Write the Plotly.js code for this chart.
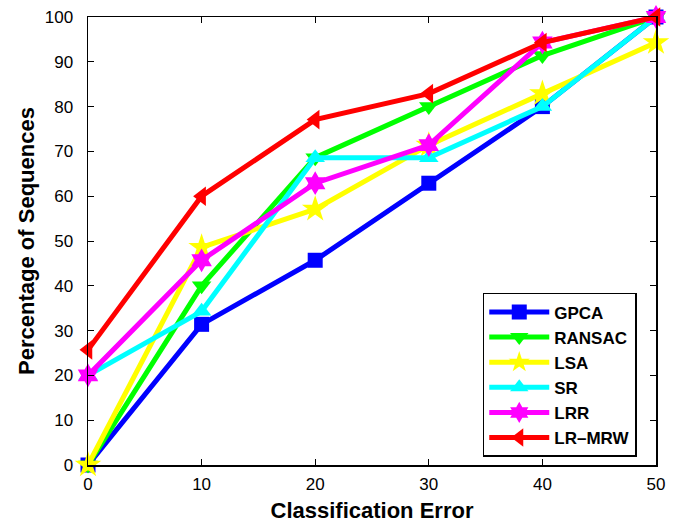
<!DOCTYPE html>
<html><head><meta charset="utf-8">
<script src="https://cdn.plot.ly/plotly-3.0.1.min.js"></script>
<style>body{margin:0;background:#fff}#c{width:680px;height:524px}</style>
</head><body><div id="c"></div>
<script>
const xVals = [0, 10, 20, 30, 40, 50];
const gpca   = [0, 31.4, 45.7, 62.9, 80.0, 100];
const ransac = [0, 40.0, 68.6, 80.0, 91.4, 100];
const lsa    = [0, 48.6, 57.1, 71.4, 82.9, 94.3];
const sr     = [20, 34.3, 68.6, 68.6, 80.0, 100];
const lrr    = [20, 45.7, 62.9, 71.4, 94.3, 100];
const lrmrw  = [25.7, 60.0, 77.1, 82.9, 94.3, 100];
const names = ['GPCA', 'RANSAC', 'LSA', 'SR', 'LRR', 'LR\u2013MRW'];
const series = [gpca, ransac, lsa, sr, lrr, lrmrw];
const colors = ['#0000ff', '#00ff00', '#ffff00', '#00ffff', '#ff00ff', '#ff0000'];
const symbols = ['square', 'triangle-down', 'star', 'triangle-up', 'hexagram', 'triangle-left'];
const sizes = [15, 17, 20, 17, 18, 17];

const FONT = 'Liberation Sans, Arial, sans-serif';
const traces = series.map((s, i) => ({
  x: xVals, y: s, name: names[i], type: 'scatter', mode: 'lines+markers',
  line: {color: colors[i], width: 5},
  marker: {symbol: symbols[i], size: sizes[i], color: colors[i], line: {width: 0}},
  cliponaxis: false
}));

const axisCommon = {
  showgrid: false, zeroline: false, showline: true, linecolor: '#000', linewidth: 1.5,
  mirror: 'ticks', ticks: 'inside', ticklen: 6, tickcolor: '#000', tickwidth: 1,
  tickfont: {family: FONT, size: 17, color: '#000'}
};

const layout = {
  width: 680, height: 524,
  margin: {l: 88, r: 24, t: 17, b: 59},
  paper_bgcolor: '#fff', plot_bgcolor: '#fff',
  showlegend: true,
  xaxis: Object.assign({}, axisCommon, {
    range: [0, 50], tickvals: [0, 10, 20, 30, 40, 50], ticklabelstandoff: 3,
    title: {text: '<b>Classification Error</b>', standoff: 9,
      font: {family: FONT, size: 22, color: '#000'}}
  }),
  yaxis: Object.assign({}, axisCommon, {
    range: [0, 100], tickvals: [0,10,20,30,40,50,60,70,80,90,100], ticklabelstandoff: 10,
    title: {text: '<b>Percentage of Sequences</b>', standoff: 4,
      font: {family: FONT, size: 22, color: '#000'}}
  }),
  legend: {
    x: 0.695, y: 0.384, xanchor: 'left', yanchor: 'top',
    bgcolor: '#fff', bordercolor: '#000', borderwidth: 1.5,
    font: {family: FONT, size: 17, color: '#000', weight: 'bold'},
    itemwidth: 60
  }
};
Plotly.newPlot('c', traces, layout, {displayModeBar: false, staticPlot: true});
</script></body></html>
